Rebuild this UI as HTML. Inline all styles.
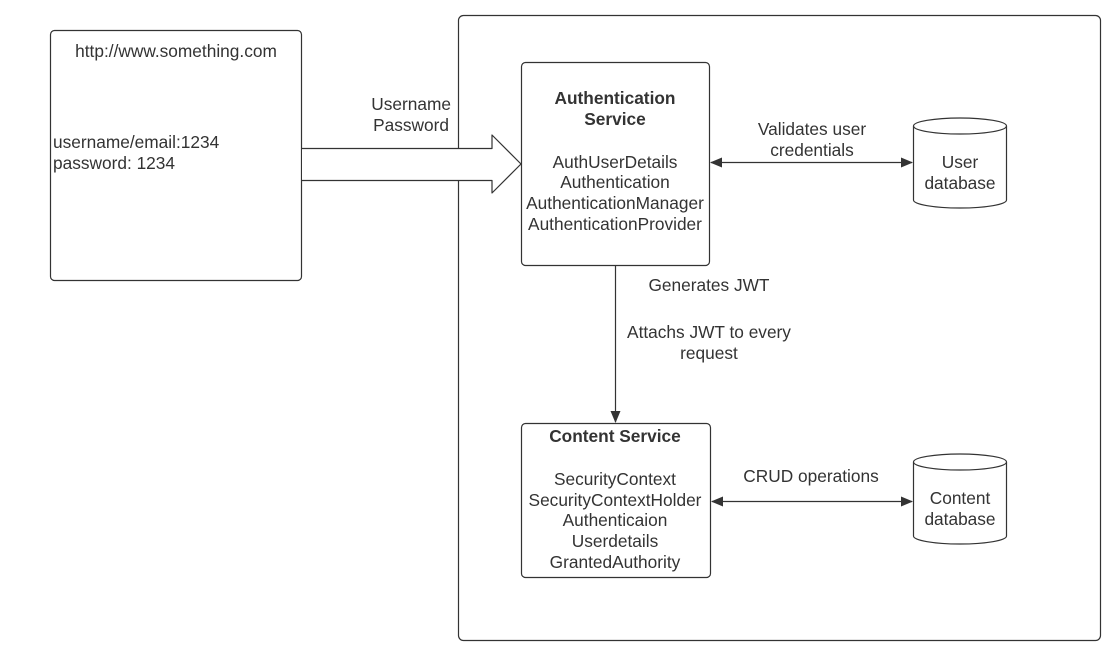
<!DOCTYPE html>
<html><head><meta charset="utf-8"><style>
html,body{margin:0;padding:0;background:#fff;}
svg text{font-family:"Liberation Sans",Arial,sans-serif;font-size:17.3px;fill:#333;}
</style></head><body>
<svg width="1112" height="662" viewBox="0 0 1112 662" xmlns="http://www.w3.org/2000/svg">
<defs>
<marker id="a" markerWidth="12" markerHeight="10" refX="11" refY="5" orient="auto-start-reverse" markerUnits="userSpaceOnUse">
<path d="M0,0 L12,5 L0,10 Z" fill="#333"/></marker>
</defs>
<g fill="none" stroke="#333" stroke-width="1.2">
<rect x="50.5" y="30.5" width="251" height="250" rx="4"/>
<rect x="458.5" y="15.5" width="642" height="625" rx="5"/>
<rect x="521.5" y="62.5" width="188" height="203" rx="4"/>
<rect x="521.5" y="423.5" width="189" height="154" rx="4"/>
<path d="M302,148.5 H492 V135 L521,164 L492,193 V180.5 H302" fill="#fff" stroke-linejoin="round"/>
<line x1="615.5" y1="265" x2="615.5" y2="422" marker-end="url(#a)"/>
<line x1="711" y1="162.5" x2="912" y2="162.5" marker-start="url(#a)" marker-end="url(#a)"/>
<line x1="712" y1="501.5" x2="912" y2="501.5" marker-start="url(#a)" marker-end="url(#a)"/>
<path d="M913.5,126 V200 A46.5,8 0 0 0 1006.5,200 V126" />
<ellipse cx="960" cy="126" rx="46.5" ry="8"/>
<path d="M913.5,462 V536 A46.5,8 0 0 0 1006.5,536 V462" />
<ellipse cx="960" cy="462" rx="46.5" ry="8"/>
</g>
<text x="176" y="57" text-anchor="middle">http://www.something.com</text>
<text x="53" y="148">username/email:1234</text>
<text x="53" y="169">password: 1234</text>
<text x="451" y="110" text-anchor="end">Username</text>
<text x="449" y="131" text-anchor="end">Password</text>
<g text-anchor="middle">
<text x="615" y="104" font-weight="bold">Authentication</text>
<text x="615" y="125" font-weight="bold">Service</text>
<text x="615" y="168">AuthUserDetails</text>
<text x="615" y="188">Authentication</text>
<text x="615" y="209">AuthenticationManager</text>
<text x="615" y="230">AuthenticationProvider</text>
<text x="615" y="442" font-weight="bold">Content Service</text>
<text x="615" y="485">SecurityContext</text>
<text x="615" y="506">SecurityContextHolder</text>
<text x="615" y="526">Authenticaion</text>
<text x="615" y="547">Userdetails</text>
<text x="615" y="568">GrantedAuthority</text>
<text x="812" y="135">Validates user</text>
<text x="812" y="156">credentials</text>
<text x="811" y="482">CRUD operations</text>
<text x="960" y="168">User</text>
<text x="960" y="189">database</text>
<text x="960" y="504">Content</text>
<text x="960" y="525">database</text>
<text x="709" y="291">Generates JWT</text>
<text x="709" y="338">Attachs JWT to every</text>
<text x="709" y="359">request</text>
</g>
</svg>
</body></html>
